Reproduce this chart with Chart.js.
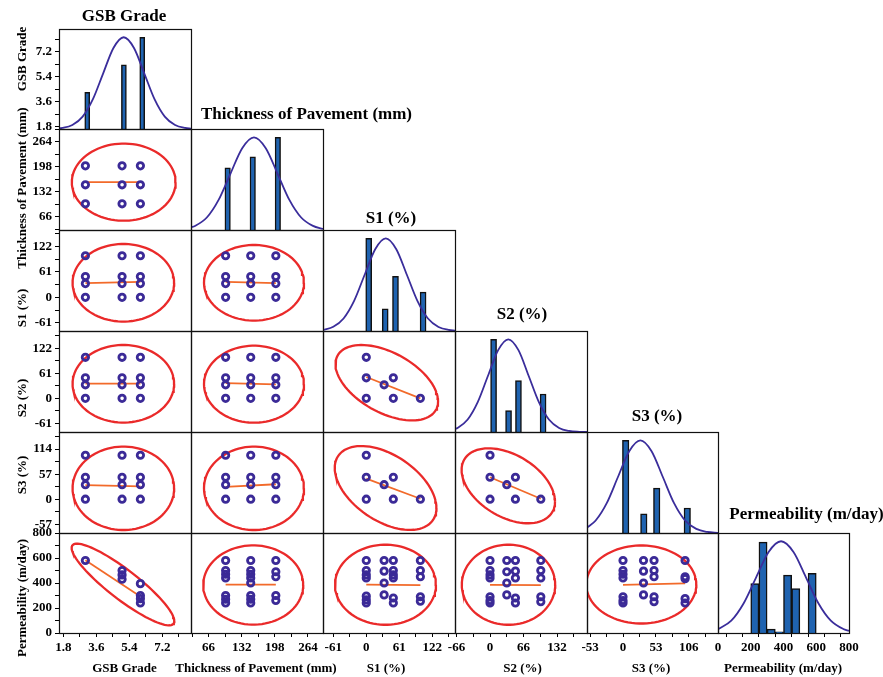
<!DOCTYPE html>
<html><head><meta charset="utf-8">
<script src="https://cdn.jsdelivr.net/npm/chart.js@4.4.1/dist/chart.umd.min.js"></script>
<style>
html,body{margin:0;padding:0;background:#fff;}
#wrap{position:relative;width:883px;height:677px;overflow:hidden;background:#fff;}
#wrap canvas{position:absolute;}
.t{position:absolute;white-space:nowrap;font-family:'Liberation Serif','Times New Roman',serif;font-weight:bold;color:#000;transform:translate(-50%,-50%);line-height:1;}
.pt{font-size:17px;}
.at{font-size:13px;}
.yt{transform:translate(-50%,-50%) rotate(-90deg);}
</style></head><body><div id="wrap"></div>
<script>
// ---------------- DATA ----------------
const varNames = ['GSB Grade', 'Thickness of Pavement (mm)', 'S1 (%)', 'S2 (%)', 'S3 (%)', 'Permeability (m/day)'];

// tick labels (bottom x axes / left y axes)
const xTickValues = [[1.8,3.6,5.4,7.2],[66,132,198,264],[-61,0,61,122],[-66,0,66,132],[-53,0,53,106],[0,200,400,600,800]];
const xTickLabels = [['1.8','3.6','5.4','7.2'],['66','132','198','264'],['-61','0','61','122'],['-66','0','66','132'],['-53','0','53','106'],['0','200','400','600','800']];
const yTickValues = [[1.8,3.6,5.4,7.2],[66,132,198,264],[-61,0,61,122],[-61,0,61,122],[-57,0,57,114],[0,200,400,600,800]];
const yTickLabels = [['1.8','3.6','5.4','7.2'],['66','132','198','264'],['-61','0','61','122'],['-61','0','61','122'],['-57','0','57','114'],['0','200','400','600','800']];
const xRanges = [[1.56,8.76],[31,294],[-80,164],[-69,191],[-58,153],[0,800]];
const yRanges = [[1.63,8.83],[31,297],[-81,162],[-82,164],[-77,153],[0,800]];

// factor levels seen in the scatter panels
const gsbLevels = [3, 5, 6];
const thickLevels = [100, 150, 200];
const sLevels = [0, 33, 50, 100];
const mixS1 = [0, 0, 0, 33, 50, 50, 100];
const mixS2 = [100, 50, 0, 33, 50, 0, 0];
const mixS3 = [0, 50, 100, 33, 0, 50, 0];

// permeability versus each factor
const gsbPerm = [[3,580],[5,500],[5,465],[5,430],[6,395],[6,300],[6,275],[6,240]];
const thickPerm = [[100,580],[100,500],[100,470],[100,440],[100,300],[100,270],[100,240],
  [150,580],[150,500],[150,470],[150,440],[150,400],[150,300],[150,270],[150,240],
  [200,580],[200,490],[200,450],[200,300],[200,260]];
const s1Perm = [[0,580],[0,500],[0,465],[0,440],[0,295],[0,265],[0,240],[33,580],[33,495],[33,400],[33,305],
  [50,580],[50,500],[50,465],[50,440],[50,280],[50,240],[100,580],[100,500],[100,450],[100,290],[100,255]];
const s2Perm = [[0,580],[0,500],[0,465],[0,440],[0,290],[0,260],[0,240],[33,580],[33,490],[33,400],[33,305],
  [50,580],[50,495],[50,440],[50,280],[50,240],[100,580],[100,500],[100,440],[100,290],[100,250]];
const s3Perm = [[0,580],[0,500],[0,470],[0,440],[0,290],[0,260],[0,240],[33,580],[33,495],[33,400],[33,305],
  [50,580],[50,500],[50,450],[50,290],[50,250],[100,580],[100,450],[100,435],[100,275],[100,240]];

// histograms on the diagonal (bar centre, relative frequency)
const gsbHistX = [3.1, 5.1, 6.1],            gsbHistN = [4, 7, 10];
const thickHistX = [104, 154, 204],          thickHistN = [6.7, 7.9, 10];
const s1HistX = [4.5, 35, 54, 105],          s1HistN = [10, 2.4, 5.9, 4.2];
const s2HistX = [7, 36.5, 56, 104.5],        s2HistN = [10, 2.3, 5.55, 4.1];
const s3HistX = [4.3, 33.5, 54.3, 103.5],    s3HistN = [10, 2.06, 4.84, 2.7];
const permHistX = [225, 275, 325, 375, 425, 475, 575], permHistN = [5.4, 9.9, 0.43, 0.14, 6.3, 4.84, 6.5];

// fitted normal curves
const gsbCurve = [[1.56,0.07],[1.73,0.11],[2.29,0.44],[2.85,1.35],[3.41,3.25],[3.97,6.07],[4.53,8.83],[5.09,10],[5.65,8.83],[6.21,6.07],[6.77,3.25],[7.33,1.35],[7.89,0.44],[8.45,0.11],[8.76,0.04]];
const thickCurve = [[31,0.29],[39,0.44],[62.5,1.35],[86,3.25],[109.5,6.07],[133,8.83],[156.5,10],[180,8.83],[203.5,6.07],[227,3.25],[250.5,1.35],[274,0.44],[294,0.12]];
const s1Curve = [[-80,0.12],[-61,0.45],[-42,1.35],[-22.5,3.25],[-3,6.07],[16.5,8.83],[36,10],[55.5,8.83],[75,6.07],[94.5,3.25],[114,1.35],[133.5,0.44],[153,0.11],[164,0.05]];
const s2Curve = [[-69,0.32],[-64,0.44],[-44,1.35],[-24,3.25],[-4,6.07],[16,8.83],[36,10],[56,8.83],[76,6.07],[96,3.25],[116,1.35],[136,0.44],[156,0.11],[176,0.02],[191,0]];
const s3Curve = [[-58,0.58],[-44,1.35],[-26,3.25],[-8,6.07],[10,8.83],[28,10],[46,8.83],[64,6.07],[82,3.25],[100,1.35],[118,0.44],[136,0.11],[153,0.02]];
const permCurve = [[0,0.41],[81,1.35],[157,3.25],[233,6.07],[309,8.83],[385,10],[461,8.83],[537,6.07],[613,3.25],[689,1.35],[765,0.44],[800,0.24]];

// confidence ellipses: row, col, centre x, centre y, half-width x, y-shift at that extreme, half vertical chord
const ellipseParams = [
  [1,0, 5.09,157, 2.83,0,101.6],
  [2,0, 5.07,35, 2.77,0,93.4],   [2,1, 156.5,35, 99.6,0,91],
  [3,0, 5.07,35.4, 2.77,0,94.5], [3,1, 156.5,34.4, 99.6,0,93.8], [3,2, 37.9,38.1, 94.8,-45.3,79.9],
  [4,0, 5.07,24.8, 2.77,0,95],   [4,1, 156.5,24.8, 99.6,0,95],   [4,2, 35.7,25.5, 94,-45.6,84], [4,3, 36,30.5, 92,-36,77.4],
  [5,0, 5.05,388, 2.8,-292,146], [5,1, 155,384, 99.6,0,317], [5,2, 35.5,386, 93.3,0,320], [5,3, 36.4,386, 92,0,320], [5,4, 29.5,388, 88.6,0,312]
];
// regression lines: row, col, x1, y1, x2, y2
const regLines = [
  [1,0, 3,157, 6,157],
  [2,0, 3,34, 6,37],   [2,1, 100,37, 200,34],
  [3,0, 3,36, 6,36],   [3,1, 100,37, 200,34], [3,2, 0,52, 100,0],
  [4,0, 3,32, 6,29],   [4,1, 100,28, 200,34], [4,2, 0,47, 100,1], [4,3, 0,50, 100,1],
  [5,0, 3,582, 6,292], [5,1, 100,387, 200,387], [5,2, 0,387, 100,383], [5,3, 0,385, 100,383], [5,4, 0,385, 100,397]
];

// ---------------- LAYOUT / STYLE ----------------
const colX = [59,191,323,455,587,718,849];
const rowY = [29,129,230,331,432,533,633];
const M = 20, AXW = 40, AXH = 26, COUNT_MAX = 10.9;
const FONT = {family: "'Liberation Serif','Times New Roman',serif", size: 13, weight: 'bold'};
const BAR_C = '#1f63b0', CURVE_C = '#3a2d9b', RING_C = '#3b2a97', ELL_C = '#ea2a2a', REG_C = '#f26a2a';
const histX = [gsbHistX, thickHistX, s1HistX, s2HistX, s3HistX, permHistX];
const histN = [gsbHistN, thickHistN, s1HistN, s2HistN, s3HistN, permHistN];
const histPx = [5, 5.5, 6, 6, 6.5, null];
const curves = [gsbCurve, thickCurve, s1Curve, s2Curve, s3Curve, permCurve];
const levels = [gsbLevels, thickLevels, sLevels, sLevels, sLevels];
const mixes = [null, null, mixS1, mixS2, mixS3];
const permPairs = [gsbPerm, thickPerm, s1Perm, s2Perm, s3Perm];

const wrap = document.getElementById('wrap');

function tickList(major, range) {
  const half = (major[1] - major[0]) / 2, out = [];
  let v = major[0];
  while (v - half >= range[0] - 1e-9) v -= half;
  for (; v <= range[1] + 1e-9; v += half) out.push(Math.round(v * 1e6) / 1e6);
  return out;
}

function axisCfg(range, major, labels, show, pos, fit) {
  const all = tickList(major, range);
  const cfg = {
    type: 'linear', position: pos, min: range[0], max: range[1], display: show, offset: false,
    afterBuildTicks: s => { s.ticks = all.map(v => ({value: v})); },
    grid: {display: true, drawOnChartArea: false, drawTicks: true, tickLength: 4, tickColor: '#000', tickWidth: 1},
    border: {display: false},
    ticks: {autoSkip: false, maxRotation: 0, minRotation: 0, padding: 3, color: '#000', font: FONT,
      callback: v => { const k = major.findIndex(m => Math.abs(m - v) < 1e-6); return k >= 0 ? labels[k] : ''; }}
  };
  if (show) cfg.afterFit = s => { if (pos === 'left') s.width = fit; else s.height = fit; };
  return cfg;
}

const boxPlugin = {
  id: 'box',
  afterDatasetsDraw(chart) {
    const a = chart.chartArea, ctx = chart.ctx;
    ctx.save();
    ctx.strokeStyle = '#111'; ctx.lineWidth = 1.2;
    ctx.strokeRect(Math.round(a.left) + 0.5, Math.round(a.top) + 0.5, Math.round(a.right - a.left), Math.round(a.bottom - a.top));
    ctx.restore();
  }
};

function ellipsePoints(p) {
  const pts = [];
  for (let k = 0; k <= 90; k++) {
    const t = k / 90 * 2 * Math.PI;
    pts.push({x: p[2] + p[4] * Math.cos(t), y: p[3] + p[5] * Math.cos(t) + p[6] * Math.sin(t)});
  }
  return pts;
}

function cellPoints(i, j) {
  if (i === 5) return permPairs[j].map(([x, y]) => ({x, y}));
  if (j <= 1) {
    const pts = [];
    levels[j].forEach(x => levels[i].forEach(y => pts.push({x, y})));
    return pts;
  }
  return mixes[j].map((x, k) => ({x, y: mixes[i][k]}));
}

function buildCell(i, j) {
  const W = colX[j + 1] - colX[j], H = rowY[i + 1] - rowY[i];
  const showY = j === 0, showX = i === 5;
  const axW = showY ? AXW : 0, axH = showX ? AXH : 0;
  const cv = document.createElement('canvas');
  cv.width = W + 2 * M + axW; cv.height = H + 2 * M + axH;
  cv.style.left = (colX[j] - M - axW) + 'px';
  cv.style.top = (rowY[i] - M) + 'px';
  cv.style.width = cv.width + 'px'; cv.style.height = cv.height + 'px';
  wrap.appendChild(cv);

  const scales = {
    x: axisCfg(xRanges[j], xTickValues[j], xTickLabels[j], showX, 'bottom', AXH),
    y: axisCfg(yRanges[i], yTickValues[i], yTickLabels[i], showY, 'left', AXW)
  };
  let datasets;
  if (i === j) {
    scales.yc = {type: 'linear', display: false, min: 0, max: COUNT_MAX, position: 'right'};
    const bar = {
      type: 'bar', yAxisID: 'yc', order: 1,
      data: histX[i].map((x, k) => ({x, y: histN[i][k]})),
      backgroundColor: BAR_C, borderColor: '#111', borderWidth: 1.5,
      barPercentage: 1, categoryPercentage: 1
    };
    if (histPx[i]) bar.barThickness = histPx[i];
    datasets = [
      {type: 'line', yAxisID: 'yc', order: 0, data: curves[i].map(([x, y]) => ({x, y})),
        borderColor: CURVE_C, borderWidth: 1.8, pointRadius: 0, fill: false, cubicInterpolationMode: 'monotone'},
      bar
    ];
  } else {
    const e = ellipseParams.find(p => p[0] === i && p[1] === j);
    const r = regLines.find(p => p[0] === i && p[1] === j);
    datasets = [
      {type: 'scatter', order: 0, data: cellPoints(i, j), pointRadius: 3.2, pointBorderWidth: 2.8,
        pointBackgroundColor: 'rgba(0,0,0,0)', pointBorderColor: RING_C, showLine: false},
      {type: 'line', order: 1, data: [{x: r[2], y: r[3]}, {x: r[4], y: r[5]}], borderColor: REG_C, borderWidth: 1.8,
        pointRadius: 0, fill: false, tension: 0},
      {type: 'line', order: 2, data: ellipsePoints(e), borderColor: ELL_C, borderWidth: 2.3,
        pointRadius: 0, fill: false, tension: 0}
    ];
  }
  new Chart(cv, {
    type: 'scatter',
    data: {datasets},
    options: {
      responsive: false, animation: false, devicePixelRatio: 1, events: [],
      layout: {padding: {left: M, right: M, top: M, bottom: M}},
      plugins: {legend: {display: false}, tooltip: {enabled: false}, title: {display: false}},
      scales
    },
    plugins: [boxPlugin]
  });
}

for (let i = 0; i < 6; i++) for (let j = 0; j <= i; j++) buildCell(i, j);

// ---------------- TEXT ----------------
const panelTitlePos = [[124,15],[306.5,113],[391,217],[522,313],[657,415],[806.5,513]];
const xTitlePos = [[124.5,666.5],[256,666.5],[386,666.5],[522.5,666.5],[651,666.5],[783,666.5]];
const yTitlePos = [[20.5,58.5],[20.5,188],[20.5,308],[20.5,398],[20.5,475],[20.5,597.5]];
function addText(txt, cls, x, y) {
  const d = document.createElement('div');
  d.className = 't ' + cls; d.textContent = txt;
  d.style.left = x + 'px'; d.style.top = y + 'px';
  wrap.appendChild(d);
}
varNames.forEach((n, k) => {
  addText(n, 'pt', panelTitlePos[k][0], panelTitlePos[k][1]);
  addText(n, 'at', xTitlePos[k][0], xTitlePos[k][1]);
  addText(n, 'at yt', yTitlePos[k][0], yTitlePos[k][1]);
});
</script></body></html>
